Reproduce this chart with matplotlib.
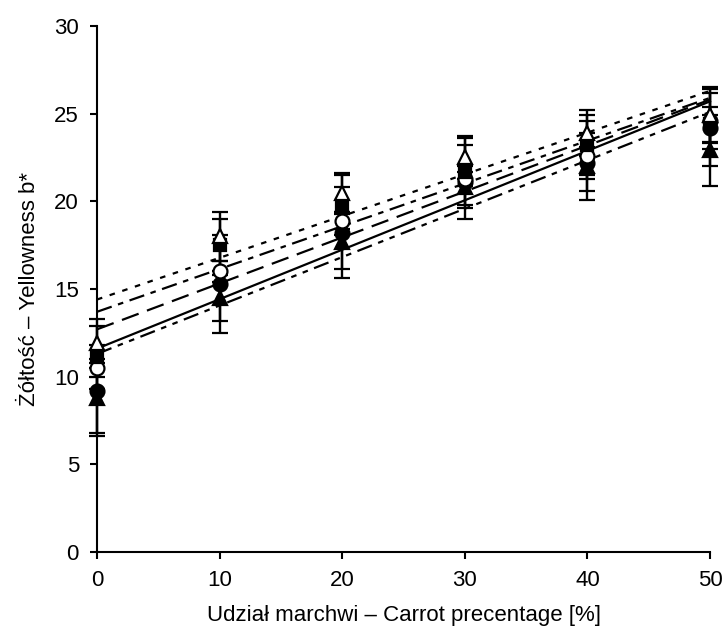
import numpy as np
import matplotlib
matplotlib.use("Agg")
import matplotlib.pyplot as plt

plt.rcParams['font.family'] = ['Liberation Sans', 'DejaVu Sans']

# udział marchwi [%]
carrot = [0, 10, 20, 30, 40, 50]

# średnie b* dla pięciu serii
tri_open = [11.9, 18.0, 20.5, 22.5, 23.9, 24.9]
square = [11.1, 17.5, 19.8, 21.7, 23.2, 24.4]
circ_open = [10.5, 16.0, 18.9, 21.3, 22.6, 24.6]
circ_fill = [9.2, 15.3, 18.2, 21.1, 22.2, 24.2]
tri_fill = [8.8, 14.5, 17.7, 20.8, 22.0, 22.9]

# odchylenia standardowe
tri_open_sd = [1.4, 1.4, 1.1, 1.2, 1.3, 1.6]
square_sd = [1.8, 1.5, 1.7, 1.9, 1.7, 1.0]
circ_open_sd = [0.5, 0.6, 0.5, 0.4, 2.0, 1.6]
circ_fill_sd = [2.6, 2.8, 2.6, 2.1, 0.9, 2.2]
tri_fill_sd = [2.0, 1.3, 1.55, 1.2, 1.9, 2.0]

# linie trendu: wartości na 0% i 50%
trend_x = [0, 50]
trend_dotted = [14.4, 26.3]
trend_dashdot = [13.7, 25.9]
trend_longdash = [12.7, 25.8]
trend_solid = [11.6, 25.7]
trend_dashdotdot = [11.3, 25.1]

fig = plt.figure(figsize=(7.26, 6.37), dpi=100)
ax = fig.add_axes([0.1336, 0.1334, 0.8444, 0.8258])

lw = 1.6
ax.plot(trend_x, trend_dotted, color='black', lw=lw, dashes=(2.5, 3.5))
ax.plot(trend_x, trend_dashdot, color='black', lw=lw, dashes=(7, 3, 2.5, 3))
ax.plot(trend_x, trend_longdash, color='black', lw=lw, dashes=(8, 4))
ax.plot(trend_x, trend_solid, color='black', lw=lw)
ax.plot(trend_x, trend_dashdotdot, color='black', lw=lw, dashes=(7, 3, 2.5, 3, 2.5, 3))

series = [
    (tri_fill, tri_fill_sd, '^', 'black', 10.5),
    (circ_fill, circ_fill_sd, 'o', 'black', 10),
    (circ_open, circ_open_sd, 'o', 'white', 10),
    (square, square_sd, 's', 'black', 9),
    (tri_open, tri_open_sd, '^', 'white', 10.5),
]
for y, sd, m, fc, ms in series:
    _, caps, bars = ax.errorbar(carrot, y, yerr=sd, fmt=m, ms=ms, mfc=fc, mec='black',
                                mew=1.6, ecolor='black', elinewidth=1.7, capsize=5.5,
                                capthick=1.8, zorder=3)
    for a in list(caps) + list(bars):
        a.set_clip_on(False)
for line in ax.lines:
    line.set_clip_on(False)

ax.set_xlim(0, 50)
ax.set_ylim(0, 30)
ax.set_xticks(range(0, 51, 10))
ax.set_yticks(range(0, 31, 5))
ax.spines['top'].set_visible(False)
ax.spines['right'].set_visible(False)
for s in ['left', 'bottom']:
    ax.spines[s].set_linewidth(1.5)
ax.tick_params(direction='out', length=5, width=1.5, labelsize=16, pad=8)
ax.set_xlabel('Udział marchwi – Carrot precentage [%]', fontsize=16, labelpad=10)
ax.set_ylabel('Żółtość – Yellowness b*', fontsize=16, labelpad=10)

plt.savefig('out.png', dpi=100)
